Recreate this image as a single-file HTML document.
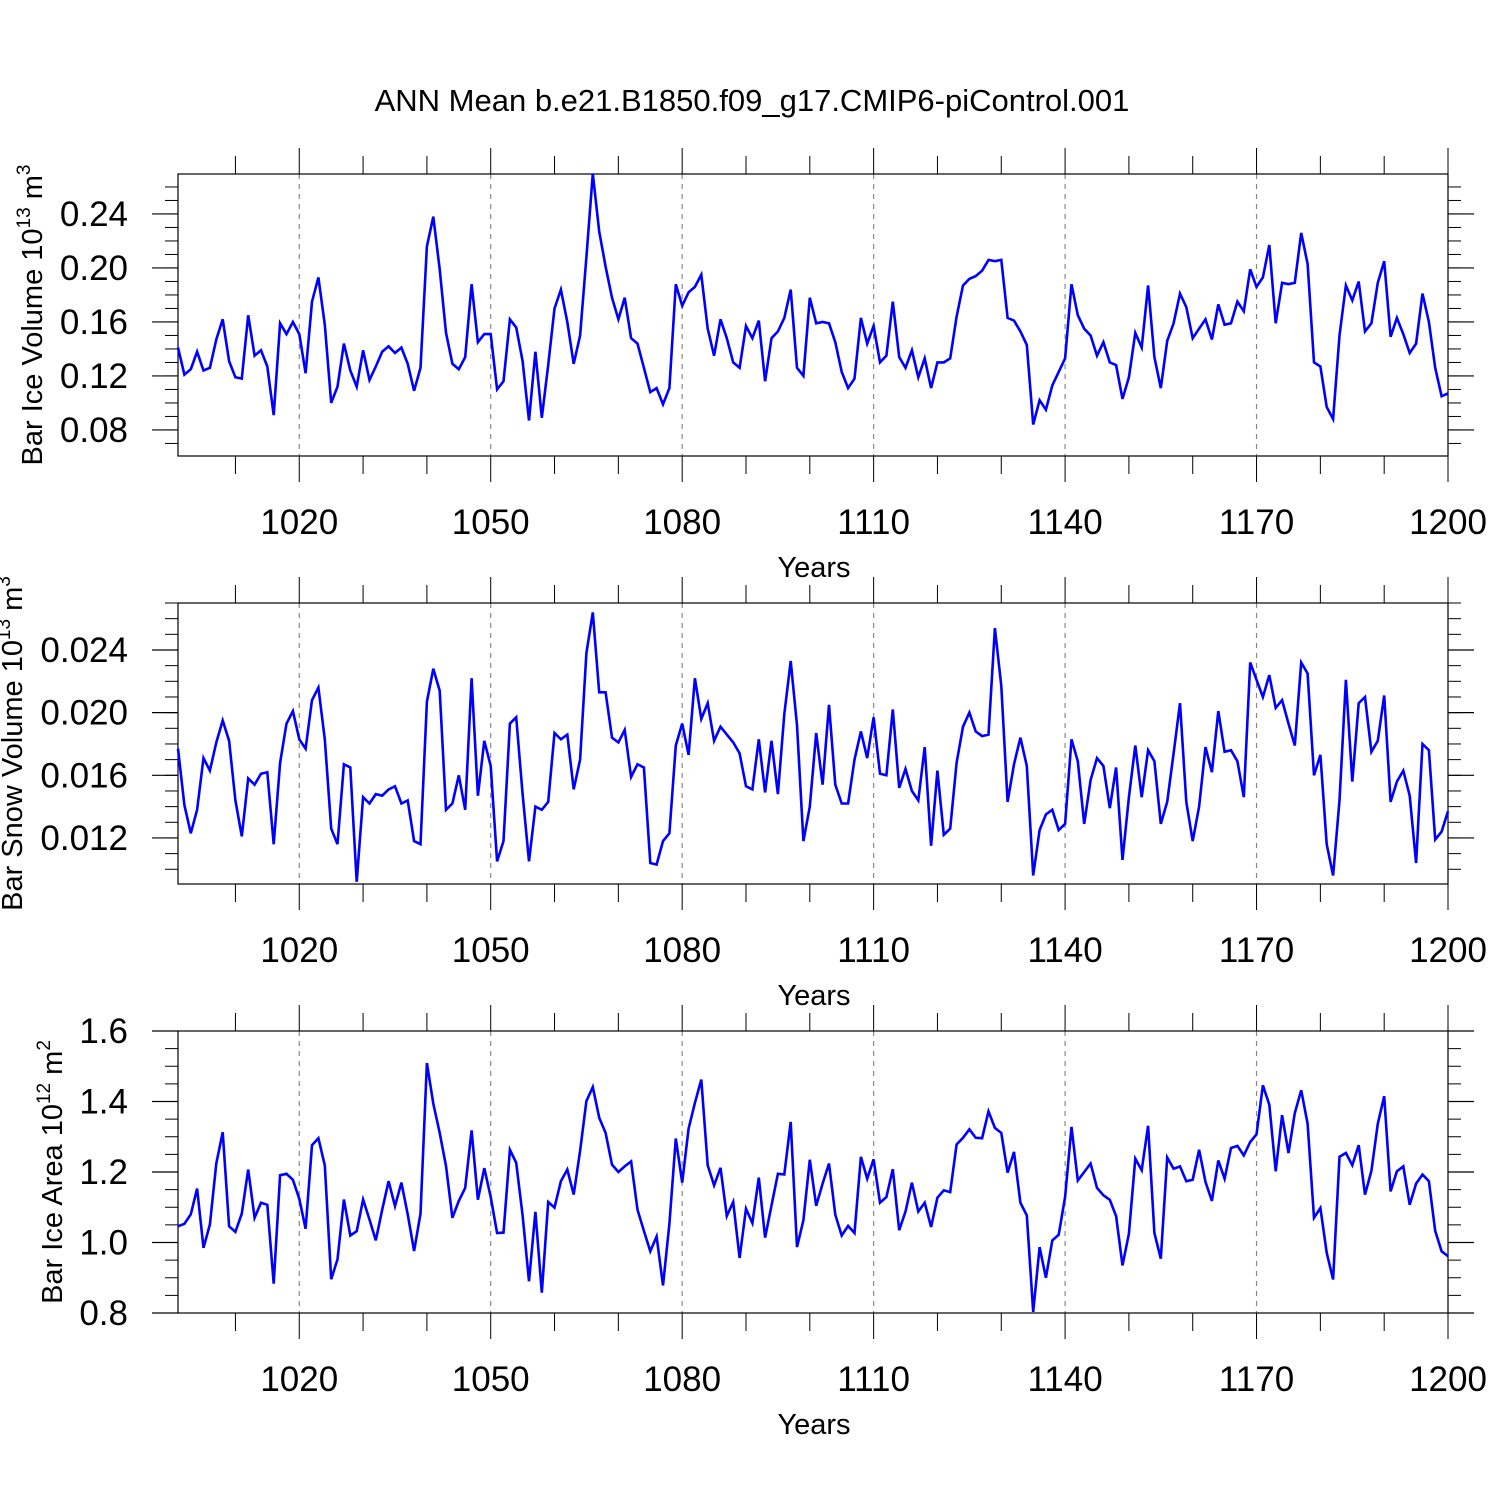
<!DOCTYPE html>
<html><head><meta charset="utf-8"><style>
html,body{margin:0;padding:0;background:#fff;}
svg text{font-family:"Liberation Sans",Arial,sans-serif;fill:#000;}
</style></head><body>
<svg id="chart" width="1500" height="1500" xmlns="http://www.w3.org/2000/svg">
<text x="752" y="111" font-size="31" text-anchor="middle">ANN Mean b.e21.B1850.f09_g17.CMIP6-piControl.001</text>
</svg>
<script>
const startYear = 1001;
const iceVolume = [0.141,0.121,0.125,0.138,0.124,0.126,0.147,0.162,0.131,0.119,0.118,0.165,0.135,0.139,0.127,0.091,0.159,0.151,0.160,0.151,
0.122,0.175,0.193,0.158,0.100,0.112,0.144,0.124,0.112,0.139,0.117,0.127,0.138,0.142,0.137,0.141,0.129,0.109,0.126,0.216,
0.238,0.199,0.152,0.129,0.125,0.134,0.188,0.145,0.151,0.151,0.110,0.116,0.162,0.156,0.131,0.087,0.138,0.089,0.128,0.170,
0.184,0.160,0.129,0.150,0.208,0.270,0.227,0.201,0.178,0.162,0.178,0.148,0.144,0.126,0.108,0.111,0.099,0.111,0.188,0.172,
0.182,0.186,0.195,0.155,0.135,0.162,0.148,0.130,0.126,0.157,0.148,0.161,0.116,0.148,0.153,0.163,0.184,0.126,0.120,0.178,
0.159,0.160,0.159,0.145,0.123,0.111,0.118,0.163,0.144,0.157,0.130,0.135,0.175,0.134,0.126,0.139,0.119,0.133,0.111,0.130,
0.130,0.133,0.164,0.187,0.192,0.194,0.198,0.206,0.205,0.206,0.163,0.161,0.153,0.143,0.084,0.102,0.095,0.113,0.123,0.133,
0.188,0.165,0.155,0.150,0.135,0.145,0.130,0.128,0.103,0.119,0.152,0.141,0.187,0.134,0.111,0.146,0.159,0.181,0.171,0.148,
0.155,0.162,0.147,0.173,0.158,0.159,0.175,0.168,0.199,0.186,0.193,0.217,0.159,0.189,0.188,0.189,0.226,0.203,0.130,0.127,
0.097,0.088,0.150,0.187,0.176,0.190,0.153,0.159,0.189,0.205,0.149,0.163,0.151,0.137,0.144,0.181,0.160,0.126,0.105,0.107];
const snowVolume = [0.0177,0.0141,0.0123,0.0138,0.0171,0.0163,0.0181,0.0195,0.0182,0.0144,0.0121,0.0158,0.0154,0.0161,0.0162,0.0116,0.0168,0.0193,0.0201,0.0183,
0.0177,0.0208,0.0216,0.0183,0.0126,0.0116,0.0167,0.0165,0.0092,0.0146,0.0142,0.0148,0.0147,0.0151,0.0153,0.0142,0.0144,0.0118,0.0116,0.0207,
0.0228,0.0214,0.0138,0.0142,0.0160,0.0138,0.0222,0.0147,0.0182,0.0166,0.0105,0.0118,0.0193,0.0197,0.0148,0.0105,0.0140,0.0138,0.0143,0.0187,
0.0183,0.0186,0.0151,0.0170,0.0238,0.0264,0.0213,0.0213,0.0184,0.0181,0.0189,0.0159,0.0167,0.0165,0.0104,0.0103,0.0118,0.0123,0.0179,0.0193,
0.0173,0.0222,0.0196,0.0206,0.0182,0.0191,0.0186,0.0181,0.0174,0.0153,0.0151,0.0183,0.0149,0.0182,0.0148,0.0199,0.0233,0.0192,0.0118,0.0140,
0.0187,0.0154,0.0205,0.0154,0.0142,0.0142,0.0170,0.0188,0.0171,0.0197,0.0161,0.0160,0.0202,0.0152,0.0164,0.0150,0.0144,0.0178,0.0115,0.0163,
0.0122,0.0126,0.0168,0.0191,0.0200,0.0188,0.0185,0.0186,0.0254,0.0217,0.0143,0.0167,0.0184,0.0166,0.0096,0.0125,0.0135,0.0138,0.0125,0.0129,
0.0183,0.0169,0.0129,0.0157,0.0171,0.0166,0.0139,0.0165,0.0106,0.0146,0.0179,0.0146,0.0176,0.0169,0.0129,0.0143,0.0174,0.0206,0.0143,0.0118,
0.0140,0.0178,0.0162,0.0201,0.0175,0.0176,0.0169,0.0146,0.0232,0.0221,0.0210,0.0224,0.0203,0.0208,0.0193,0.0179,0.0232,0.0225,0.0160,0.0173,
0.0116,0.0096,0.0144,0.0221,0.0156,0.0206,0.0210,0.0175,0.0182,0.0211,0.0143,0.0156,0.0163,0.0147,0.0104,0.0180,0.0176,0.0119,0.0124,0.0137];
const iceArea = [1.046,1.053,1.080,1.153,0.985,1.051,1.224,1.313,1.046,1.030,1.082,1.207,1.070,1.113,1.107,0.883,1.191,1.195,1.178,1.124,
1.039,1.276,1.296,1.219,0.896,0.952,1.122,1.020,1.032,1.122,1.065,1.006,1.093,1.174,1.103,1.170,1.080,0.976,1.082,1.509,
1.394,1.311,1.217,1.070,1.118,1.155,1.318,1.121,1.211,1.129,1.027,1.028,1.263,1.226,1.077,0.890,1.087,0.858,1.115,1.099,
1.174,1.207,1.136,1.260,1.401,1.441,1.354,1.311,1.221,1.200,1.216,1.230,1.093,1.033,0.975,1.017,0.878,1.053,1.295,1.170,
1.323,1.396,1.462,1.219,1.162,1.212,1.075,1.115,0.956,1.096,1.055,1.184,1.014,1.105,1.195,1.193,1.342,0.987,1.063,1.235,
1.104,1.167,1.224,1.079,1.020,1.047,1.027,1.243,1.181,1.236,1.113,1.129,1.208,1.035,1.088,1.170,1.088,1.113,1.044,1.127,
1.148,1.143,1.278,1.297,1.321,1.297,1.296,1.372,1.325,1.311,1.198,1.257,1.113,1.077,0.803,0.987,0.900,1.006,1.022,1.129,
1.328,1.176,1.200,1.224,1.155,1.134,1.121,1.075,0.935,1.025,1.238,1.205,1.331,1.027,0.954,1.241,1.209,1.216,1.174,1.178,
1.263,1.172,1.118,1.233,1.181,1.268,1.274,1.247,1.285,1.307,1.446,1.391,1.202,1.361,1.254,1.367,1.432,1.337,1.070,1.098,
0.971,0.895,1.243,1.254,1.219,1.276,1.136,1.203,1.337,1.415,1.145,1.202,1.216,1.107,1.167,1.193,1.174,1.033,0.975,0.961];
const xTickLabels = [1020,1050,1080,1110,1140,1170,1200];
const iceVolTicks = ["0.08","0.12","0.16","0.20","0.24"];
const snowVolTicks = ["0.012","0.016","0.020","0.024"];
const iceAreaTicks = ["0.8","1.0","1.2","1.4","1.6"];

const NS="http://www.w3.org/2000/svg";
const svg=document.getElementById('chart');
function mk(tag,attrs,parent){const e=document.createElementNS(NS,tag);for(const k in attrs)e.setAttribute(k,attrs[k]);(parent||svg).appendChild(e);return e;}
const L=178,R=1448;
const xScale=yr=>L+(yr-1001)*(R-L)/199;

const panels=[
 {name:'ice-volume',top:174,bot:456,ymin:0.0607,ymax:0.2696,data:iceVolume,ticks:iceVolTicks,minor:0.01,minorStart:0.07,
  title:'Bar Ice Volume 10',exp:'13',unit:' m',uexp:'3',tx:42},
 {name:'snow-volume',top:603,bot:884,ymin:0.00906,ymax:0.0270,data:snowVolume,ticks:snowVolTicks,minor:0.001,minorStart:0.01,
  title:'Bar Snow Volume 10',exp:'13',unit:' m',uexp:'3',tx:22},
 {name:'ice-area',top:1031,bot:1313,ymin:0.8,ymax:1.6,data:iceArea,ticks:iceAreaTicks,minor:0.05,minorStart:0.8,
  title:'Bar Ice Area 10',exp:'12',unit:' m',uexp:'2',tx:62}
];
panels.forEach(p=>{
 const g=mk('g',{});
 
 
 const yS=v=>p.bot-(v-p.ymin)/(p.ymax-p.ymin)*(p.bot-p.top);
 xTickLabels.slice(0,6).forEach(yr=>{
  const l=mk('line',{x1:xScale(yr),x2:xScale(yr),y1:p.top,y2:p.bot,stroke:'#888','stroke-width':1.2,'stroke-dasharray':'5,5'},g);
  
  
 });
 for(let v=p.minorStart;v<=p.ymax+1e-9;v+=p.minor){
  if(v<p.ymin-1e-9)continue;
  const y=yS(v);
  mk('line',{x1:L-13,x2:L,y1:y,y2:y,stroke:'#000','stroke-width':1},g);
  mk('line',{x1:R,x2:R+13,y1:y,y2:y,stroke:'#000','stroke-width':1},g);
 }
 p.ticks.forEach(t=>{
  const y=yS(parseFloat(t));
  mk('line',{x1:L-26,x2:L,y1:y,y2:y,stroke:'#000','stroke-width':1.2},g);
  mk('line',{x1:R,x2:R+26,y1:y,y2:y,stroke:'#000','stroke-width':1.2},g);
  const tx=mk('text',{x:L-50,y:y+12,'font-size':35,'text-anchor':'end'},g);
  tx.textContent=t;
  
  
 });
 for(let yr=1010;yr<=1200;yr+=10){
  const x=xScale(yr);
  const len=(xTickLabels.indexOf(yr)>=0)?26:18;
  mk('line',{x1:x,x2:x,y1:p.top-len,y2:p.top,stroke:'#000','stroke-width':1},g);
  mk('line',{x1:x,x2:x,y1:p.bot,y2:p.bot+len,stroke:'#000','stroke-width':1},g);
 }
 xTickLabels.forEach(yr=>{
  const t=mk('text',{x:xScale(yr),y:p.bot+78,'font-size':35,'text-anchor':'middle'},g);
  t.textContent=yr;
  
  
 });
 const xt=mk('text',{x:814,y:p.bot+121,'font-size':29,'text-anchor':'middle'},g);
 xt.textContent='Years';
 
 
 const cy=(p.top+p.bot)/2;
 const yt=mk('text',{transform:`translate(${p.tx},${cy}) rotate(-90)`,'font-size':29,'text-anchor':'middle'},g);
 
 
 const s1=mk('tspan',{},yt);s1.textContent=p.title;
 const s2=mk('tspan',{dy:-12,'font-size':19},yt);s2.textContent=p.exp;
 const s3=mk('tspan',{dy:12},yt);s3.textContent=p.unit;
 const s4=mk('tspan',{dy:-12,'font-size':19},yt);s4.textContent=p.uexp;
 const fr=mk('rect',{x:L,y:p.top,width:R-L,height:p.bot-p.top,fill:'none',stroke:'#000','stroke-width':1.2},g);
 
 
 const pts=p.data.map((v,i)=>xScale(startYear+i).toFixed(1)+','+yS(v).toFixed(1)).join(' ');
 const pl=mk('polyline',{points:pts,fill:'none',stroke:'#0000ff','stroke-width':2.6,'stroke-linejoin':'miter'},g);
 
 
});
</script>
</body></html>
